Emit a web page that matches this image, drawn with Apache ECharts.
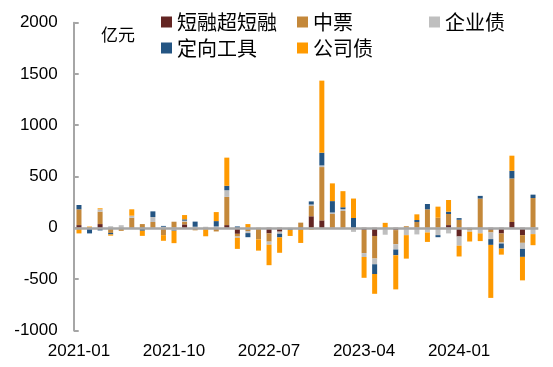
<!DOCTYPE html>
<html><head><meta charset="utf-8">
<script src="https://cdn.jsdelivr.net/npm/echarts@6/dist/echarts.min.js"></script>
<style>html,body{margin:0;padding:0;background:#fff}#c{width:553px;height:367px}</style>
</head><body><div id="c"></div>
<script>
const categories = ['2021-01','2021-02','2021-03','2021-04','2021-05','2021-06','2021-07','2021-08','2021-09','2021-10','2021-11','2021-12',
'2022-01','2022-02','2022-03','2022-04','2022-05','2022-06','2022-07','2022-08','2022-09','2022-10','2022-11','2022-12',
'2023-01','2023-02','2023-03','2023-04','2023-05','2023-06','2023-07','2023-08','2023-09','2023-10','2023-11','2023-12',
'2024-01','2024-02','2024-03','2024-04','2024-05','2024-06','2024-07','2024-08'];
const duanrong = [26,-10,36,0,0,-12,0,0,0,0,33,0,-15,0,26,-59,-12,0,-55,-38,0,0,112,72,0,0,0,-22,-80,-13,-23,0,0,-13,0,26,-85,0,-13,-20,-56,56,-72,0];
const zhongpiao = [154,0,121,-50,-30,98,36,56,-72,59,26,-25,0,-36,275,-26,-20,-113,-80,0,0,50,100,520,134,164,0,-225,-220,0,-137,15,56,180,98,108,78,-23,285,-26,-88,425,-75,290];
const qiyezhai = [0,0,23,15,25,20,0,49,10,-25,10,10,10,13,65,-13,-20,0,-30,-20,-10,0,15,16,15,18,-40,-38,-56,-55,-52,-72,-65,-33,-72,-55,-90,-16,-42,-65,-10,-10,-59,-62];
const dingxiang = [42,-45,-26,-15,0,0,-29,55,8,-5,13,50,0,52,43,13,-40,0,0,-36,-10,-18,30,124,111,18,95,0,-95,0,-56,0,20,52,-20,23,16,0,26,-56,-49,75,-78,33];
const gongsizhai = [-55,12,10,-12,0,62,-50,0,-55,-120,42,0,-68,88,275,-108,36,-110,-200,-150,-60,-130,-18,703,173,157,190,-203,-193,48,-333,-229,55,-92,108,114,-105,-95,-75,-517,-59,147,-229,-108];
const yTicks = {min:-1000, max:2000, interval:500};

const names = ['短融超短融','中票','企业债','定向工具','公司债'];
const colors = ['#632523','#C4883A','#BFBFBF','#245583','#FF9A00'];
const datas = [duanrong, zhongpiao, qiyezhai, dingxiang, gongsizhai];

const font = 'Liberation Sans, Arial, sans-serif';
const cjk = 'Noto Sans CJK SC, sans-serif';
const legendBase = {orient:'vertical', icon:'rect', itemWidth:11, itemHeight:11, itemGap:6,
  textStyle:{fontFamily:cjk, fontSize:20, color:'#000'}, selectedMode:true};

const chart = echarts.init(document.getElementById('c'), null, {renderer:'canvas'});
chart.setOption({
  animation:false,
  backgroundColor:'#fff',
  color: colors,
  title:{text:'亿元', left:96, top:21, textStyle:{fontFamily:cjk, fontSize:17, fontWeight:'normal', color:'#000'}},
  legend:[
    Object.assign({left:156, top:7, data:['短融超短融','定向工具']}, legendBase),
    Object.assign({left:292, top:7, data:['中票','公司债']}, legendBase),
    Object.assign({left:424, top:7, data:['企业债']}, legendBase)
  ],
  grid:{left:73.7, right:14.7, top:22.7, bottom:36.7, containLabel:false},
  xAxis:{type:'category', data:categories, position:'bottom',
    axisLine:{show:false, onZero:false}, axisTick:{show:false},
    axisLabel:{interval:8, margin:13, fontFamily:font, fontSize:17, color:'#000'}},
  yAxis:{type:'value', min:yTicks.min, max:yTicks.max, interval:yTicks.interval,
    axisLine:{show:true, lineStyle:{color:'#A6A6A6', width:2}},
    axisTick:{show:true, inside:true, length:5, lineStyle:{color:'#A6A6A6', width:2}},
    splitLine:{show:false},
    axisLabel:{margin:16, fontFamily:font, fontSize:17, color:'#000', formatter: v => String(v)}},
  series: names.map((n,i)=>({
    name:n, type:'bar', stack:'total', barWidth:5, data:datas[i],
    itemStyle:{color:colors[i]},
    markLine: i===0 ? {silent:true, symbol:'none', label:{show:false}, z:10,
      lineStyle:{color:'#A6A6A6', width:2.5, type:'solid'}, data:[{yAxis:0}]} : undefined
  }))
});
</script></body></html>
